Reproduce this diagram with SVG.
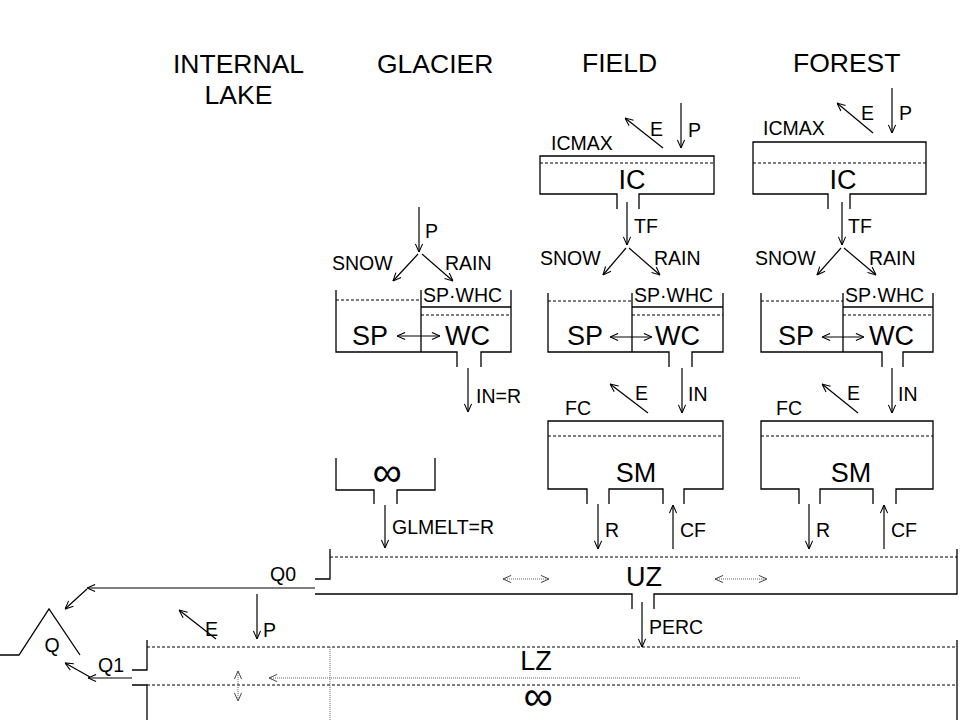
<svg xmlns="http://www.w3.org/2000/svg" width="960" height="720" viewBox="0 0 960 720">
<style>
text{font-family:"Liberation Sans",Arial,sans-serif;fill:#000}
.h{font-size:26.5px}
.s{font-size:19.5px}
.b{font-size:27px}
.inf{font-size:41px}
.ln{stroke:#000;stroke-width:1.3;fill:none}
.ds{stroke:#000;stroke-width:1;stroke-dasharray:3,2;fill:none}
.ar{stroke:#000;stroke-width:1.2;fill:none;marker-end:url(#a)}
.dar{stroke:#000;stroke-width:1.2;fill:none;marker-end:url(#a);marker-start:url(#a)}
.gd{stroke:#666;stroke-width:1;stroke-dasharray:1,1;fill:none}
.gar{stroke:#666;stroke-width:1;stroke-dasharray:1,1;fill:none;marker-end:url(#g);marker-start:url(#g)}
.gal{stroke:#666;stroke-width:1;stroke-dasharray:1,1;fill:none;marker-start:url(#g)}
</style>
<defs>
<marker id="a" viewBox="0 0 10 10" refX="10" refY="5" markerWidth="9" markerHeight="9" markerUnits="userSpaceOnUse" orient="auto-start-reverse">
<path d="M1,1 L10,5 L1,9" fill="none" stroke="#000" stroke-width="1.2"/>
</marker>
<marker id="g" viewBox="0 0 10 10" refX="10" refY="5" markerWidth="9" markerHeight="9" markerUnits="userSpaceOnUse" orient="auto-start-reverse">
<path d="M1,1 L10,5 L1,9" fill="none" stroke="#444" stroke-width="1.1"/>
</marker>
</defs>
<rect width="960" height="720" fill="#fff"/>

<g id="headers">
<text class="h" x="173" y="73">INTERNAL</text>
<text class="h" x="238.5" y="104" text-anchor="middle">LAKE</text>
<text class="h" x="377" y="73">GLACIER</text>
<text class="h" x="582" y="72">FIELD</text>
<text class="h" x="793" y="72">FOREST</text>
</g>

<!-- GLACIER -->
<g id="glacier-snow">
<path class="ln" d="M336,290 V352 H457 V367 M481,367 V352 H511 V290 M421,290 V352 M421,307 H511"/>
<path class="ds" d="M336,300 H421 M421,315 H511"/>
<text class="s" x="423" y="302">SP·WHC</text>
<text class="b" x="352" y="345">SP</text>
<text class="b" x="445" y="345">WC</text>
</g>
<g id="glacier-ice">
<path class="ln" d="M336,458 V490 H374 V504 M397,504 V490 H435 V458"/>
<text class="inf" x="387" y="486" text-anchor="middle">∞</text>
</g>

<!-- FIELD -->
<g id="field-ic">
<path class="ln" d="M617,209 V194 H540 V156 H714 V194 H639 V209"/>
<path class="ds" d="M540,163 H714"/>
<text class="b" x="632" y="189" text-anchor="middle">IC</text>
<text class="s" x="551" y="150">ICMAX</text>
</g>
<g id="field-snow">
<path class="ln" d="M548,293 V352 H669 V367 M692,367 V352 H723 V293 M632,293 V352 M632,307 H723"/>
<path class="ds" d="M548,301 H632 M632,315 H723"/>
<text class="s" x="634" y="302">SP·WHC</text>
<text class="b" x="567" y="345">SP</text>
<text class="b" x="655" y="345">WC</text>
</g>
<g id="field-sm">
<path class="ln" d="M587,504 V489 H548 V421 H723 V489 H684 V504 M609,504 V489 H663 V504"/>
<path class="ds" d="M548,436 H723"/>
<text class="b" x="636" y="482" text-anchor="middle">SM</text>
<text class="s" x="565" y="415">FC</text>
</g>

<!-- FOREST -->
<g id="forest-ic">
<path class="ln" d="M828,209 V194 H753 V142 H926 V194 H850 V209"/>
<path class="ds" d="M753,163 H926"/>
<text class="b" x="843" y="189" text-anchor="middle">IC</text>
<text class="s" x="763" y="135">ICMAX</text>
</g>
<g id="forest-snow">
<path class="ln" d="M761,293 V352 H882 V367 M903,367 V352 H933 V293 M843,293 V352 M843,307 H933"/>
<path class="ds" d="M761,301 H843 M843,315 H933"/>
<text class="s" x="845" y="302">SP·WHC</text>
<text class="b" x="778" y="345">SP</text>
<text class="b" x="869" y="345">WC</text>
</g>
<g id="forest-sm">
<path class="ln" d="M799,504 V489 H761 V421 H933 V489 H896 V504 M820,504 V489 H873 V504"/>
<path class="ds" d="M761,436 H933"/>
<text class="b" x="851" y="482" text-anchor="middle">SM</text>
<text class="s" x="776" y="415">FC</text>
</g>

<!-- UZ -->
<g id="uz">
<path class="ln" d="M315,579 H330 V549 M315,594 H632 V609 M654,609 V594 H957 V549"/>
<path class="ds" d="M330,557 H957"/>
<text class="b" x="644" y="586" text-anchor="middle">UZ</text>
</g>

<!-- LZ -->
<g id="lz">
<path class="ln" d="M132,670 H147 V640 M132,685 H147 V720 M957,640 V720"/>
<path class="ds" d="M147,647 H957 M147,685 H957"/>
<text class="b" x="536" y="670" text-anchor="middle">LZ</text>
<text class="inf" x="538" y="710" text-anchor="middle">∞</text>
<path class="gd" d="M330,647 V720"/>
</g>

<!-- Q -->
<g id="q">
<path class="ln" d="M0,655 H19 L49,609 L80,655"/>
<text class="s" x="52" y="652" text-anchor="middle">Q</text>
</g>

<g id="connectors">
<!-- glacier -->
<path class="ar" d="M419,207 V252"/>
<path class="ar" d="M418,254 L393,281"/>
<path class="ar" d="M422,254 L453,281"/>
<path class="dar" d="M397,336 H440"/>
<path class="ar" d="M468,368 V412"/>
<path class="ar" d="M385,505 V548"/>
<!-- field -->
<path class="ar" d="M663,148 L625,118"/>
<path class="ar" d="M681,103 V148"/>
<path class="ar" d="M627,202 V245"/>
<path class="ar" d="M626,248 L603,275"/>
<path class="ar" d="M629,248 L660,275"/>
<path class="dar" d="M610,337 H652"/>
<path class="ar" d="M682,368 V413"/>
<path class="ar" d="M648,413 L610,384"/>
<path class="ar" d="M598,504 V549"/>
<path class="ar" d="M673,549 V505"/>
<!-- forest -->
<path class="ar" d="M873,133 L837,103"/>
<path class="ar" d="M892,88 V133"/>
<path class="ar" d="M842,202 V245"/>
<path class="ar" d="M841,248 L817,275"/>
<path class="ar" d="M844,248 L876,275"/>
<path class="dar" d="M822,337 H864"/>
<path class="ar" d="M892,368 V413"/>
<path class="ar" d="M858,413 L822,384"/>
<path class="ar" d="M809,504 V549"/>
<path class="ar" d="M884,549 V505"/>
<!-- UZ / LZ -->
<path class="gar" d="M503,579 H549"/>
<path class="gar" d="M715,579 H767"/>
<path class="ar" d="M315,588 H87"/>
<path class="ar" d="M87,589 L65,609"/>
<path class="ar" d="M642,602 V647"/>
<path class="ar" d="M216,639 L179,610"/>
<path class="ar" d="M257,594 V639"/>
<path class="ar" d="M132,678 H88"/>
<path class="ar" d="M90,677 L65,663"/>
<path class="gal" d="M269,678 H800"/>
<path class="gar" d="M238,671 V701"/>
</g>

<g id="labels">
<text class="s" x="425" y="238">P</text>
<text class="s" x="332" y="270">SNOW</text>
<text class="s" x="445" y="270">RAIN</text>
<text class="s" x="476" y="403">IN=R</text>
<text class="s" x="392" y="534">GLMELT=R</text>
<text class="s" x="650" y="136">E</text>
<text class="s" x="688" y="137">P</text>
<text class="s" x="634" y="233">TF</text>
<text class="s" x="540" y="265">SNOW</text>
<text class="s" x="654" y="265">RAIN</text>
<text class="s" x="635" y="400">E</text>
<text class="s" x="688" y="401">IN</text>
<text class="s" x="605" y="537">R</text>
<text class="s" x="680" y="537">CF</text>
<text class="s" x="861" y="120">E</text>
<text class="s" x="899" y="120">P</text>
<text class="s" x="848" y="233">TF</text>
<text class="s" x="755" y="265">SNOW</text>
<text class="s" x="869" y="265">RAIN</text>
<text class="s" x="847" y="400">E</text>
<text class="s" x="898" y="401">IN</text>
<text class="s" x="816" y="537">R</text>
<text class="s" x="891" y="537">CF</text>
<text class="s" x="270" y="581">Q0</text>
<text class="s" x="649" y="634">PERC</text>
<text class="s" x="205" y="636">E</text>
<text class="s" x="263" y="637">P</text>
<text class="s" x="98" y="672">Q1</text>
</g>
</svg>
